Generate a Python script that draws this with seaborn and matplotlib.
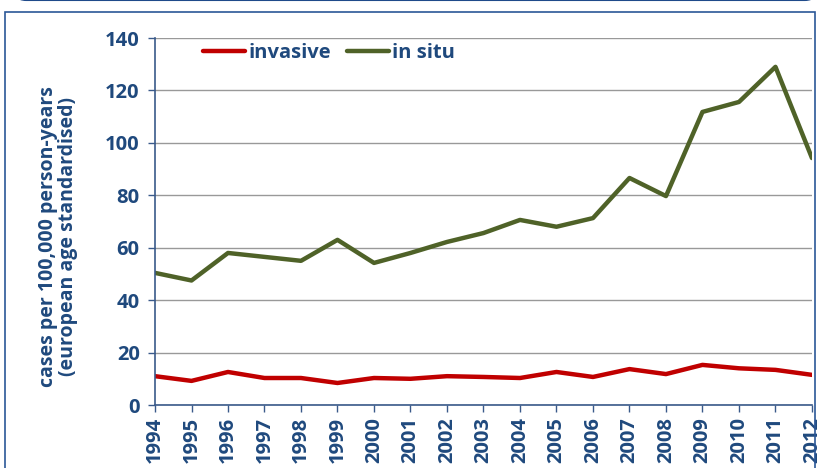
import pandas as pd
import seaborn as sns
import matplotlib.pyplot as plt
from matplotlib.patches import Rectangle, FancyBboxPatch

years = list(range(1994, 2013))
invasive = [11.0, 9.2, 12.6, 10.3, 10.3, 8.4, 10.3, 10.0, 11.0, 10.7,
            10.3, 12.6, 10.7, 13.7, 11.8, 15.3, 14.0, 13.4, 11.5]
in_situ = [50.4, 47.5, 58.0, 56.5, 55.0, 63.0, 54.2, 58.0, 62.2, 65.6,
           70.6, 68.0, 71.3, 86.6, 79.7, 111.8, 115.6, 129.0, 94.2]
series = ["invasive", "in situ"]
palette = {"invasive": "#C00000", "in situ": "#4F6228"}

df = pd.DataFrame({"year": years * 2,
                   "value": invasive + in_situ,
                   "series": ["invasive"] * len(years) + ["in situ"] * len(years)})

sns.set_style("white")
plt.rcParams['font.family'] = ['Open Sans', 'DejaVu Sans']
plt.rcParams['font.weight'] = 'bold'
txt = "#1F497D"

fig = plt.figure(figsize=(8.21, 4.68), dpi=100)
ax = fig.add_axes([0.1888, 0.1346, 0.8002, 0.7842])

sns.lineplot(data=df, x="year", y="value", hue="series", hue_order=series,
             palette=palette, linewidth=3.2, ax=ax)

ax.set_xlim(1994, 2012)
ax.set_ylim(0, 140)
ax.set_yticks(range(0, 141, 20))
ax.set_xticks(years)
ax.set_xticklabels([str(y) for y in years], rotation=90)
ax.grid(axis='y', color='#999999', linewidth=1)
ax.set_axisbelow(True)
for s in ['top', 'right']:
    ax.spines[s].set_visible(False)
for s in ['left', 'bottom']:
    ax.spines[s].set_color('#3A5A8A')
    ax.spines[s].set_linewidth(1.2)
ax.tick_params(axis='both', direction='out', length=5, width=1, color='#3A5A8A',
               labelcolor=txt, labelsize=14.5, left=True, bottom=True)
ax.tick_params(axis='y', pad=6)
for lab in ax.get_xticklabels() + ax.get_yticklabels():
    lab.set_fontweight('bold')
ax.set_xlabel("")
ax.set_ylabel("cases per 100,000 person-years\n(european age standardised)",
              fontsize=14, fontweight='bold', color=txt, linespacing=1.0)
ax.yaxis.set_label_coords(-0.117, 0.46)

ax.legend(loc='upper left', bbox_to_anchor=(0.045, 1.035), ncol=2, frameon=False,
          handlelength=2.1, handletextpad=0.15, columnspacing=0.8,
          prop={'size': 14.5, 'weight': 'bold'}, labelcolor=txt)

# frame around the chart
fig.patches.append(Rectangle((5 / 821, -0.1), 810 / 821, 1 - 12 / 468 + 0.1,
                             transform=fig.transFigure, fill=False,
                             edgecolor='#2B5797', linewidth=1.2))
fig.patches.append(FancyBboxPatch((18 / 821, 1.0), 795 / 821, 0.02,
                                  boxstyle="round,pad=0,rounding_size=0.01",
                                  transform=fig.transFigure, facecolor='#2B5797',
                                  edgecolor='#1F4A8A', linewidth=1.5, clip_on=False))

fig.savefig("out.png", dpi=100)
